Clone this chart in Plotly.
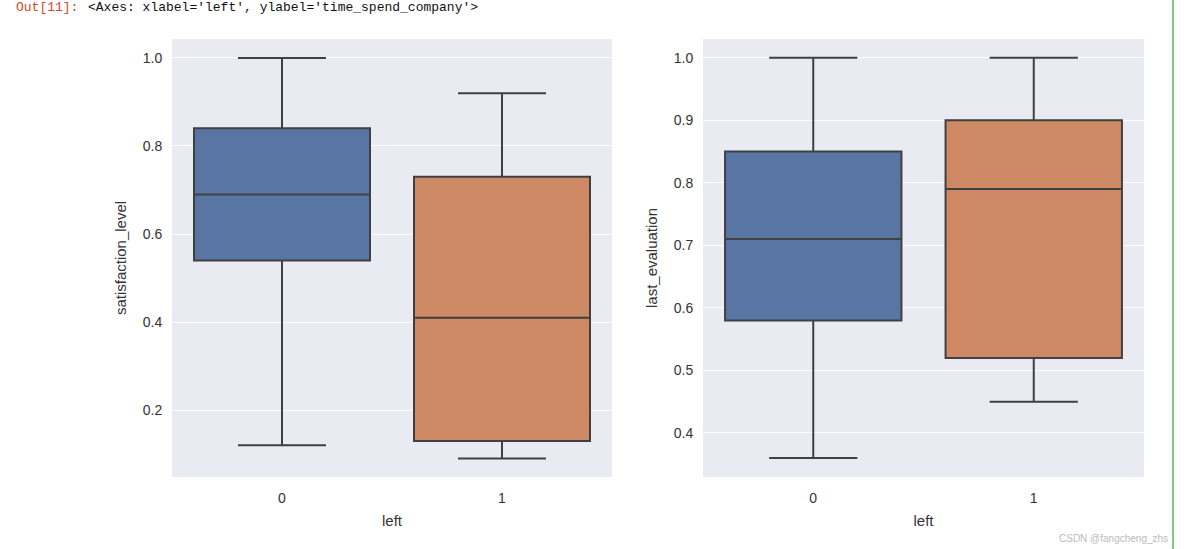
import plotly.graph_objects as go
from plotly.subplots import make_subplots

# --- data ---
categories = ["0", "1"]

# satisfaction_level by left
sat_low = [0.12, 0.09]
sat_q1 = [0.54, 0.13]
sat_med = [0.69, 0.41]
sat_q3 = [0.84, 0.73]
sat_high = [1.00, 0.92]

# last_evaluation by left
eval_low = [0.36, 0.45]
eval_q1 = [0.58, 0.52]
eval_med = [0.71, 0.79]
eval_q3 = [0.85, 0.90]
eval_high = [1.00, 1.00]

box_colors = ["#5875a4", "#cc8963"]
line_color = "#404040"
W, H = 1184, 549

fig = make_subplots(rows=1, cols=2)


def add_boxes(col, low, q1, med, q3, high):
    for i, cat in enumerate(categories):
        fig.add_trace(
            go.Box(
                x=[cat],
                lowerfence=[low[i]],
                q1=[q1[i]],
                median=[med[i]],
                q3=[q3[i]],
                upperfence=[high[i]],
                fillcolor=box_colors[i],
                line=dict(color=line_color, width=2),
                whiskerwidth=0.5,
                width=0.8,
                showlegend=False,
                boxpoints=False,
            ),
            row=1,
            col=col,
        )


add_boxes(1, sat_low, sat_q1, sat_med, sat_q3, sat_high)
add_boxes(2, eval_low, eval_q1, eval_med, eval_q3, eval_high)

tick_font = dict(family="Liberation Sans, Arial, sans-serif", size=14, color="#333333")
title_font = dict(family="Liberation Sans, Arial, sans-serif", size=15, color="#333333")

xdoms = [[172 / W, 612 / W], [703 / W, 1144 / W]]
ydom = [1 - 477 / H, 1 - 39 / H]
yranges = [[0.048, 1.043], [0.3296, 1.030]]
ytickvals = [[0.2, 0.4, 0.6, 0.8, 1.0], [0.4, 0.5, 0.6, 0.7, 0.8, 0.9, 1.0]]
ytitles = ["satisfaction_level", "last_evaluation"]

for k in range(2):
    fig.update_xaxes(
        domain=xdoms[k],
        type="category",
        range=[-0.5, 1.5],
        showgrid=False,
        zeroline=False,
        ticks="outside",
        ticklen=8,
        tickcolor="rgba(0,0,0,0)",
        tickfont=tick_font,
        title=dict(text="left", font=title_font, standoff=10),
        row=1,
        col=k + 1,
    )
    fig.update_yaxes(
        domain=ydom,
        range=yranges[k],
        tickvals=ytickvals[k],
        tickformat=".1f",
        showgrid=True,
        gridcolor="white",
        gridwidth=1.3,
        zeroline=False,
        ticks="outside",
        ticklen=6,
        tickcolor="rgba(0,0,0,0)",
        tickfont=tick_font,
        title=dict(text=ytitles[k], font=title_font, standoff=12),
        row=1,
        col=k + 1,
    )

mono = "Liberation Mono, DejaVu Sans Mono, monospace"
fig.add_annotation(
    x=14 / W, y=1 - 8 / H, xref="paper", yref="paper",
    xanchor="left", yanchor="middle", showarrow=False,
    text="Out[11]:", font=dict(family=mono, size=13, color="#d0482a"),
)
fig.add_annotation(
    x=86 / W, y=1 - 8 / H, xref="paper", yref="paper",
    xanchor="left", yanchor="middle", showarrow=False,
    text="&lt;Axes: xlabel='left', ylabel='time_spend_company'&gt;",
    font=dict(family=mono, size=13, color="#111111"),
)
fig.add_annotation(
    x=1170 / W, y=1 - 538 / H, xref="paper", yref="paper",
    xanchor="right", yanchor="middle", showarrow=False,
    text="CSDN @fangcheng_zhs",
    font=dict(family="Liberation Sans, Arial, sans-serif", size=10, color="#bbbbbb"),
)
fig.add_shape(
    type="line", xref="paper", yref="paper",
    x0=1173 / W, x1=1173 / W, y0=0, y1=1,
    line=dict(color="#86c986", width=2),
)

fig.update_layout(
    width=W,
    height=H,
    margin=dict(l=0, r=0, t=0, b=0),
    paper_bgcolor="white",
    plot_bgcolor="#eaeaf2",
    boxmode="overlay",
)

# drop the browser's default body margin so the figure sits at the page corner
fig.write_html(
    "out.html",
    config={"displayModeBar": False},
    post_script="document.body.style.margin='0';document.body.style.overflow='hidden';",
)
